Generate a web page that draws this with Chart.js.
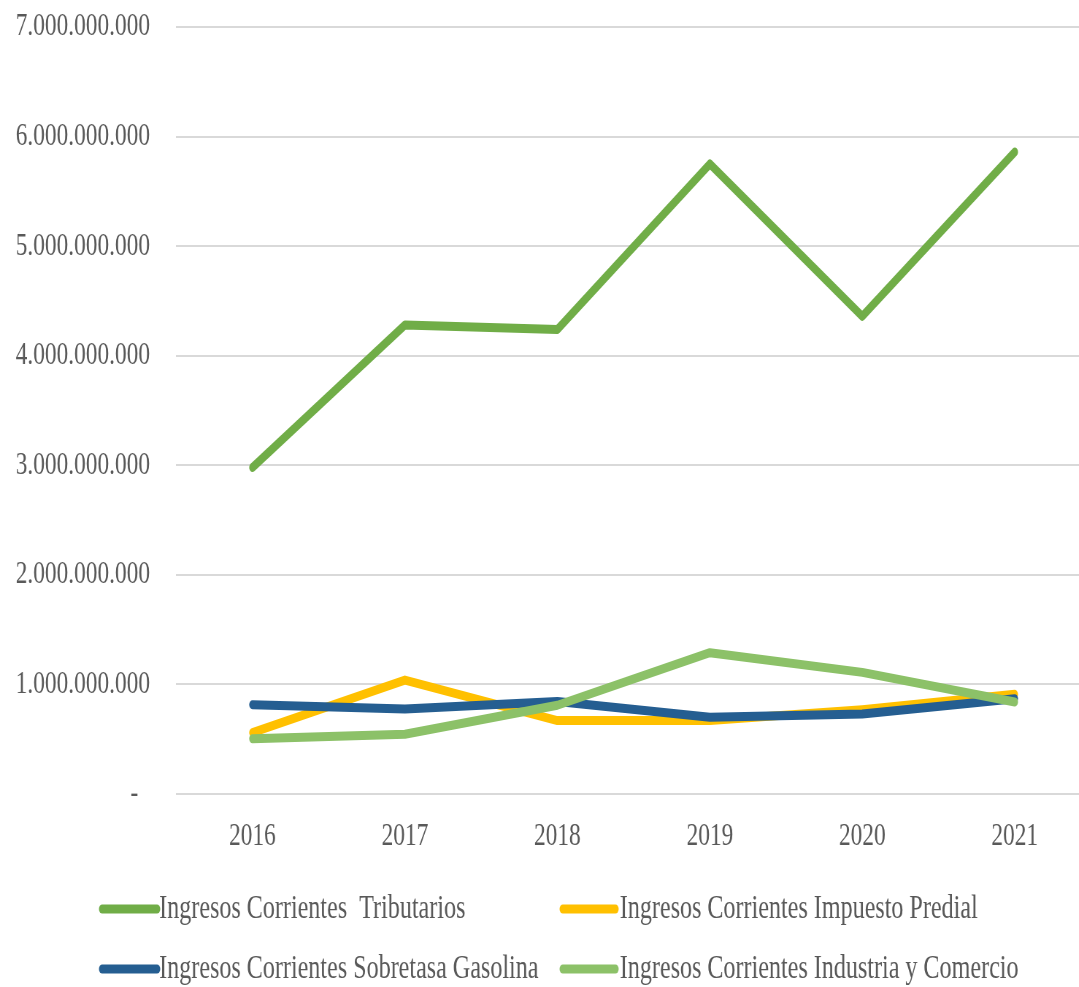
<!DOCTYPE html>
<html>
<head>
<meta charset="utf-8">
<script src="https://cdn.jsdelivr.net/npm/chart.js@4.4.1/dist/chart.umd.min.js"></script>
<style>
  html, body { margin: 0; padding: 0; background: #ffffff; overflow: hidden; width: 1079px; height: 987px; }
  #wrap { position: absolute; left: 0; top: 0; width: 1500px; height: 987px; transform: scaleX(0.73); transform-origin: 0 0; }
  canvas { display: block; }
</style>
</head>
<body>
<div id="wrap"><canvas id="c" width="1500" height="987"></canvas></div>
<script>
const categories = ['2016', '2017', '2018', '2019', '2020', '2021'];
const seriesNames = [
  'Ingresos Corrientes  Tributarios',
  'Ingresos Corrientes Impuesto Predial',
  'Ingresos Corrientes Sobretasa Gasolina',
  'Ingresos Corrientes Industria y Comercio'
];
const tributarios = [2980000000, 4280000000, 4240000000, 5750000000, 4360000000, 5860000000];
const predial     = [560000000, 1040000000, 670000000, 670000000, 770000000, 910000000];
const gasolina    = [815000000, 775000000, 845000000, 700000000, 730000000, 870000000];
const industria   = [505000000, 545000000, 810000000, 1290000000, 1110000000, 840000000];
const yTickLabels = ['-  ', '1.000.000.000', '2.000.000.000', '3.000.000.000', '4.000.000.000', '5.000.000.000', '6.000.000.000', '7.000.000.000'];

const colors = ['#70AD47', '#FFC000', '#255E91', '#8CC168'];
const FONT = '"Liberation Serif", "Times New Roman", serif';
const TEXT = '#595959';

const legendPlugin = {
  id: 'gridLegend',
  afterDraw(chart) {
    const ctx = chart.ctx;
    const cols = [{ x1: 140, x2: 215, tx: 218 }, { x1: 771, x2: 843, tx: 849 }];
    const rows = [{ ly: 909, ty: 918 }, { ly: 969, ty: 978 }];
    ctx.save();
    chart.data.datasets.forEach((ds, i) => {
      const c = cols[i % 2], r = rows[Math.floor(i / 2)];
      ctx.strokeStyle = ds.borderColor;
      ctx.lineWidth = 9;
      ctx.lineCap = 'round';
      ctx.beginPath();
      ctx.moveTo(c.x1, r.ly);
      ctx.lineTo(c.x2, r.ly);
      ctx.stroke();
      ctx.fillStyle = TEXT;
      ctx.font = '33px ' + FONT;
      ctx.textBaseline = 'alphabetic';
      ctx.textAlign = 'left';
      ctx.fillText(ds.label, c.tx, r.ty);
    });
    ctx.restore();
  }
};

const allSeries = [tributarios, predial, gasolina, industria];
new Chart(document.getElementById('c'), {
  type: 'line',
  data: {
    labels: categories,
    datasets: allSeries.map((d, i) => ({
      label: seriesNames[i],
      data: d,
      borderColor: colors[i],
      backgroundColor: colors[i],
      borderWidth: 9,
      pointRadius: 0,
      tension: 0,
      fill: false,
      borderJoinStyle: 'round',
      borderCapStyle: 'round',
      order: 4 - i
    }))
  },
  options: {
    responsive: false,
    animation: false,
    devicePixelRatio: 1,
    layout: { padding: { top: 27, right: 5.5, bottom: 0, left: 0 } },
    plugins: { legend: { display: false }, tooltip: { enabled: false } },
    scales: {
      x: {
        type: 'category',
        offset: true,
        grid: { display: false, drawTicks: false },
        border: { display: false },
        ticks: { color: TEXT, font: { family: FONT, size: 32 }, padding: 23, maxRotation: 0 },
        afterFit(scale) { scale.height = 193; }
      },
      y: {
        min: 0,
        max: 7000000000,
        grid: { color: '#D9D9D9', lineWidth: 2, drawTicks: false },
        border: { display: false },
        ticks: {
          stepSize: 1000000000,
          color: TEXT,
          font: { family: FONT, size: 32 },
          padding: 36,
          callback: (v, i) => yTickLabels[i]
        },
        afterFit(scale) {
          scale.width = 241.4;
          scale.paddingTop = 0;
          scale.paddingBottom = 0;
        }
      }
    }
  },
  plugins: [legendPlugin]
});
</script>
</body>
</html>
